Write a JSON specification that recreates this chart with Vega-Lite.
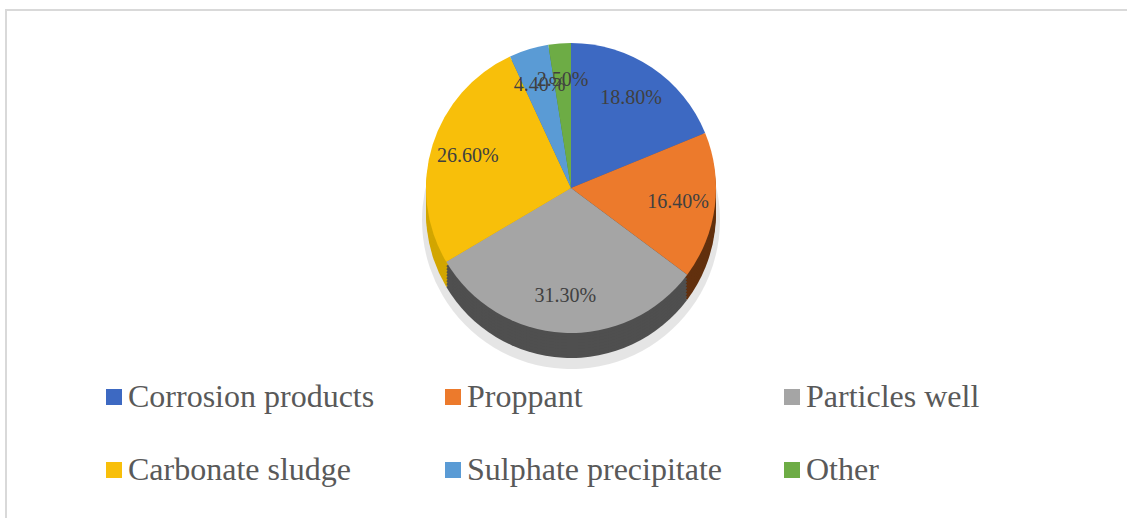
{
  "$schema": "https://vega.github.io/schema/vega-lite/v6.json",
  "width": 1130,
  "height": 520,
  "padding": {"left": 6, "top": 10, "right": 0, "bottom": 0},
  "background": "#ffffff",
  "view": {"stroke": "#d9d9d9", "strokeWidth": 2},
  "config": {
    "view": {"stroke": "#d9d9d9", "strokeWidth": 2},
    "font": "Liberation Serif"
  },
  "data": {
    "values": [
      {"category": "Corrosion products", "share": 0.188, "n": 1},
      {"category": "Proppant", "share": 0.164, "n": 2},
      {"category": "Particles well", "share": 0.313, "n": 3},
      {"category": "Carbonate sludge", "share": 0.266, "n": 4},
      {"category": "Sulphate precipitate", "share": 0.044, "n": 5},
      {"category": "Other", "share": 0.025, "n": 6}
    ]
  },
  "encoding": {
    "theta": {"field": "share", "type": "quantitative", "stack": true},
    "order": {"field": "n", "type": "quantitative"}
  },
  "layer": [
    {
      "mark": {"type": "arc", "outerRadius": 149, "yOffset": -50, "fill": "#000000", "opacity": 0.1},
      "encoding": {"detail": {"field": "category"}}
    },
    {
      "mark": {"type": "arc", "outerRadius": 145, "yOffset": -57},
      "encoding": {
        "fill": {
          "field": "category",
          "type": "nominal",
          "legend": null,
          "scale": {
            "range": ["#d2a600", "#2a4a8a", "#4d7a30", "#4f4f4f", "#62300e", "#3d6d99"]
          }
        }
      }
    },
    {
      "mark": {"type": "arc", "outerRadius": 145, "yOffset": -60},
      "encoding": {"fill": {"field": "category", "type": "nominal", "legend": null}}
    },
    {
      "mark": {"type": "arc", "outerRadius": 145, "yOffset": -63},
      "encoding": {"fill": {"field": "category", "type": "nominal", "legend": null}}
    },
    {
      "mark": {"type": "arc", "outerRadius": 145, "yOffset": -66},
      "encoding": {"fill": {"field": "category", "type": "nominal", "legend": null}}
    },
    {
      "mark": {"type": "arc", "outerRadius": 145, "yOffset": -69},
      "encoding": {"fill": {"field": "category", "type": "nominal", "legend": null}}
    },
    {
      "mark": {"type": "arc", "outerRadius": 145, "yOffset": -72},
      "encoding": {"fill": {"field": "category", "type": "nominal", "legend": null}}
    },
    {
      "mark": {"type": "arc", "outerRadius": 145, "yOffset": -75},
      "encoding": {"fill": {"field": "category", "type": "nominal", "legend": null}}
    },
    {
      "mark": {"type": "arc", "outerRadius": 145, "yOffset": -78},
      "encoding": {"fill": {"field": "category", "type": "nominal", "legend": null}}
    },
    {
      "mark": {"type": "arc", "outerRadius": 145, "yOffset": -82},
      "encoding": {
        "color": {
          "field": "category",
          "type": "nominal",
          "scale": {
            "domain": ["Corrosion products", "Proppant", "Particles well", "Carbonate sludge", "Sulphate precipitate", "Other"],
            "range": ["#3d69c2", "#ec7a2c", "#a5a5a5", "#f8bf0a", "#5a9bd5", "#6dac45"]
          },
          "legend": {
            "title": null,
            "orient": "none",
            "legendX": 92,
            "legendY": 371,
            "direction": "horizontal",
            "columns": 3,
            "gridAlign": "all",
            "columnPadding": 53,
            "rowPadding": 41,
            "padding": 0,
            "symbolType": "square",
            "symbolSize": 256,
            "symbolStrokeWidth": 0,
            "labelFont": "Liberation Serif",
            "labelFontSize": 32,
            "labelColor": "#595959",
            "labelOffset": -2,
            "labelLimit": 400
          }
        }
      }
    },
    {
      "mark": {"type": "text", "radius": 108, "yOffset": -82, "font": "Liberation Serif", "fontSize": 20, "color": "#404040"},
      "encoding": {
        "detail": {"field": "category"},
        "text": {"field": "share", "type": "quantitative", "format": ".2%"}
      }
    }
  ]
}
